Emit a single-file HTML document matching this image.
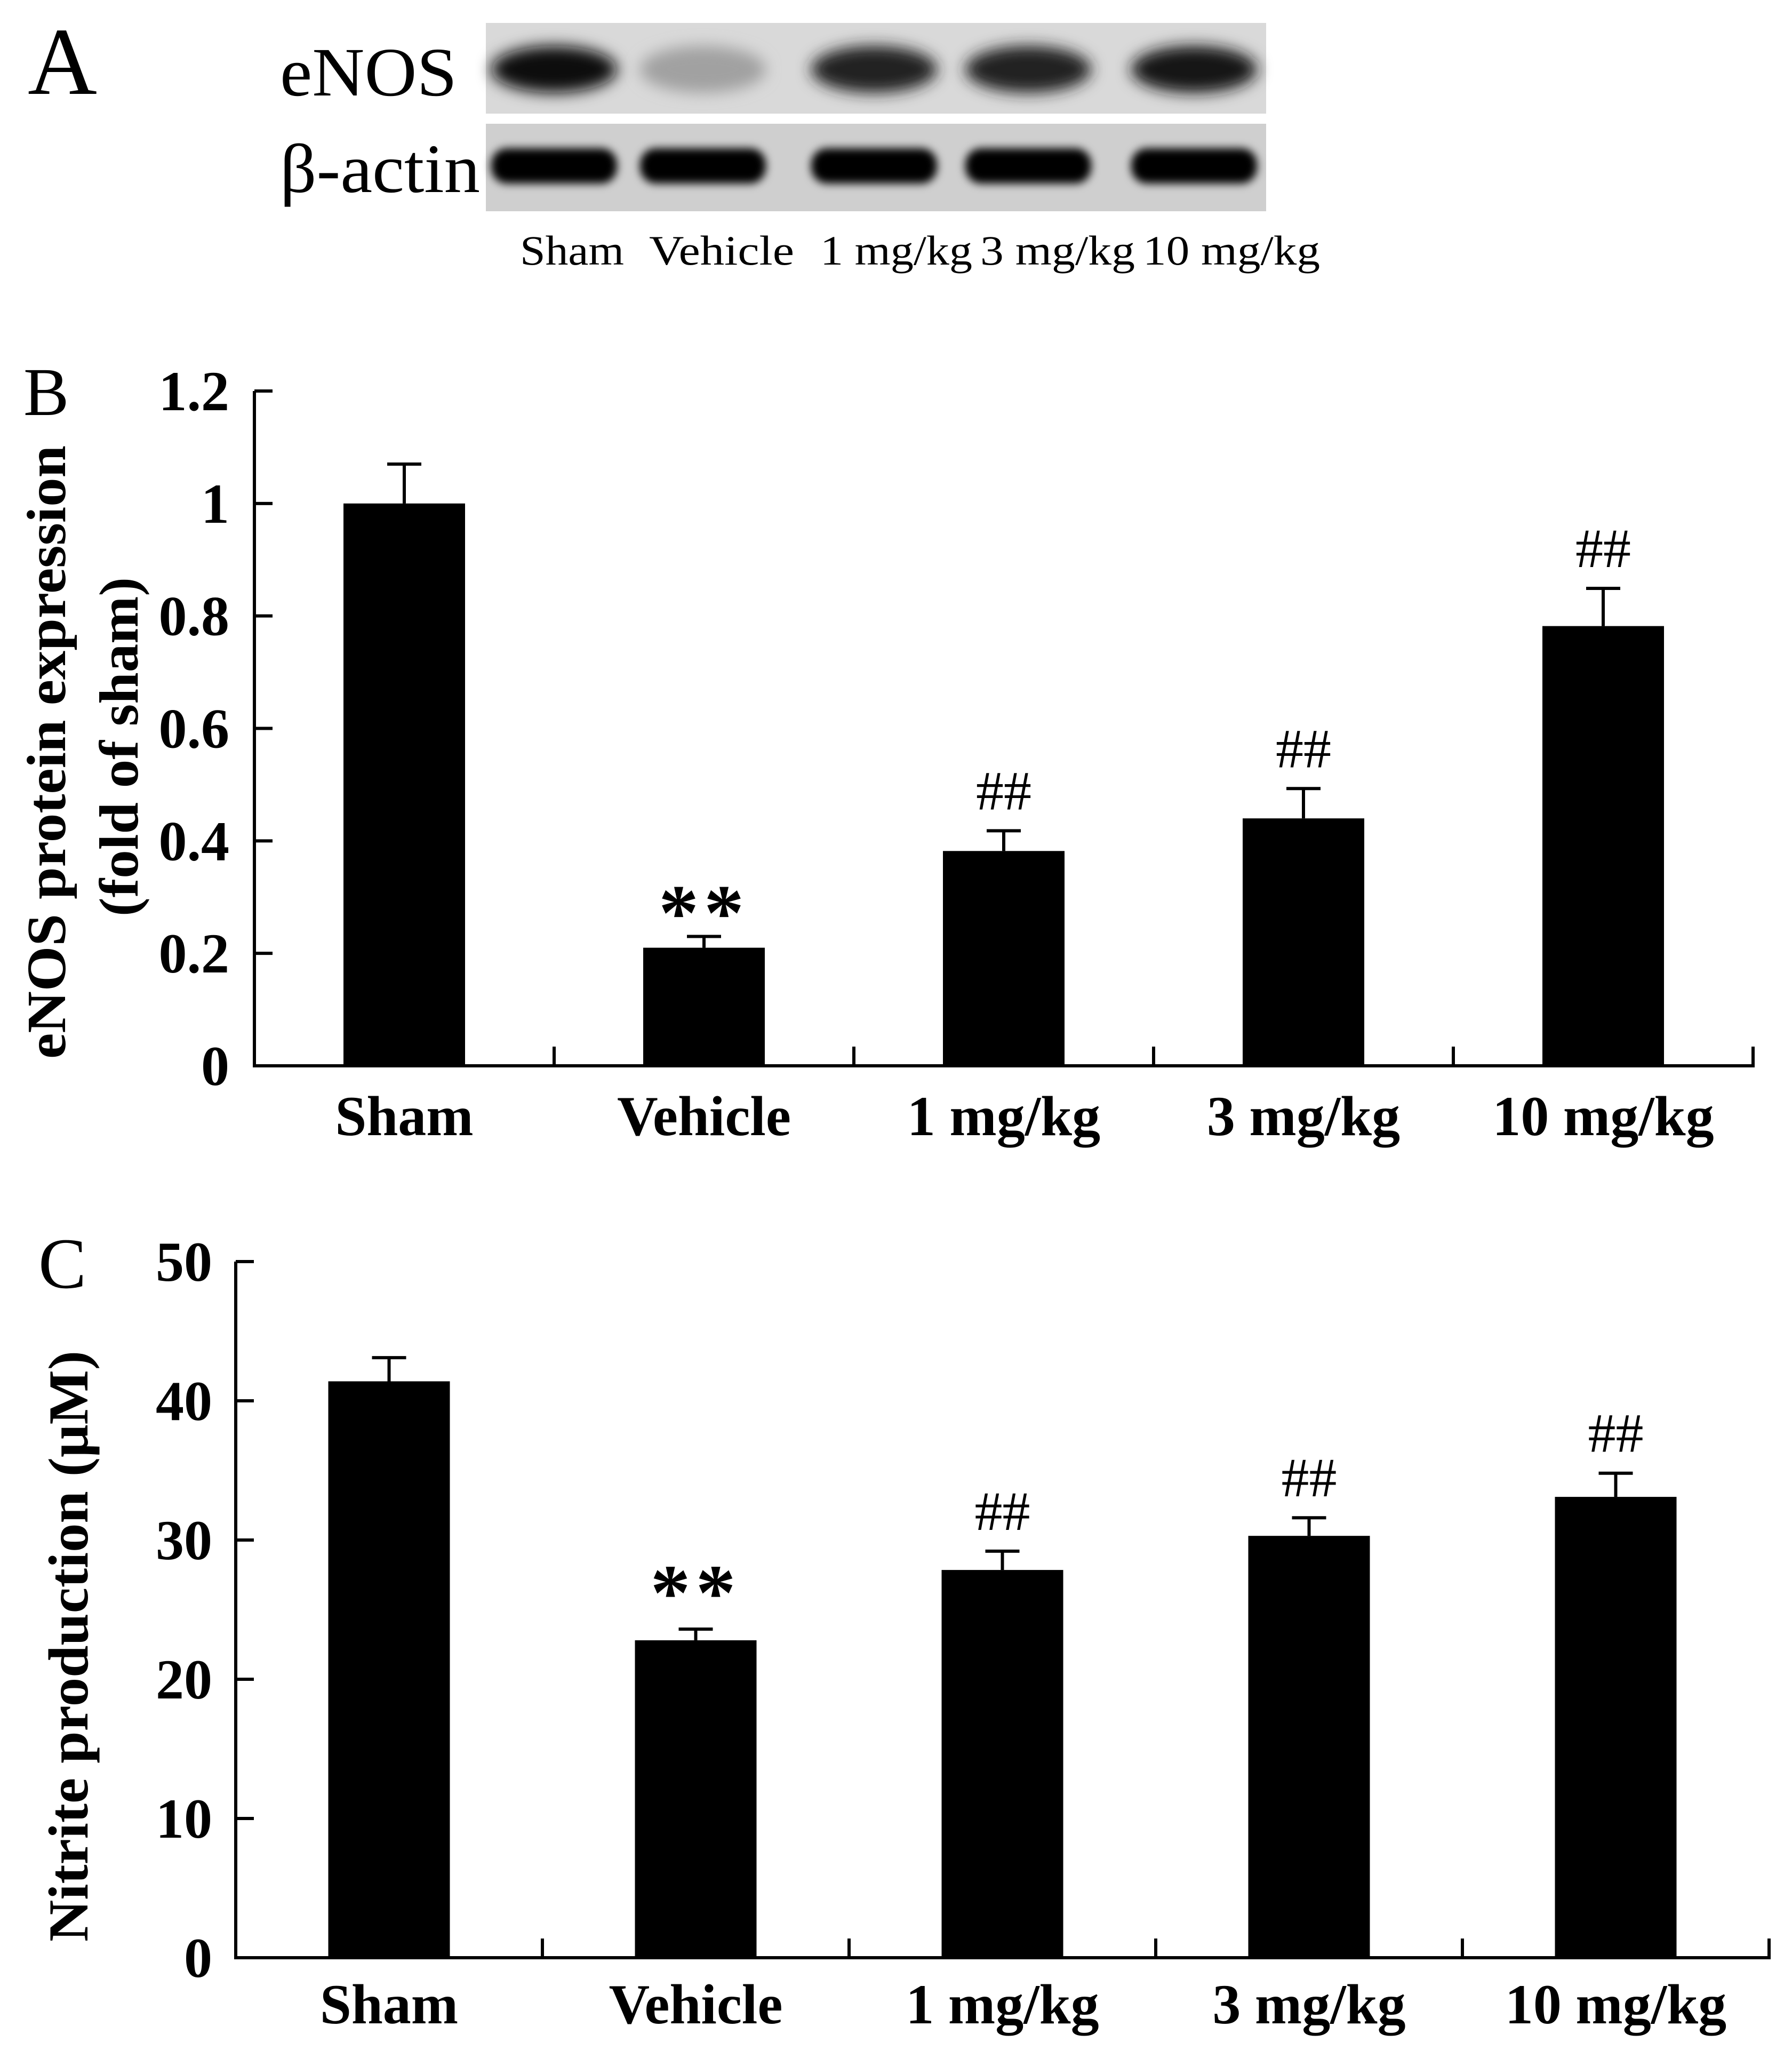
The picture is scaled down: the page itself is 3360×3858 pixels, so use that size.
<!DOCTYPE html>
<html><head><meta charset="utf-8">
<style>
html,body{margin:0;padding:0;background:#fff;}
svg{display:block;}
text{font-family:"Liberation Serif",serif;fill:#000;}
</style></head>
<body>
<svg id="fig" width="3360" height="3858" viewBox="0 0 3360 3858" xmlns="http://www.w3.org/2000/svg">
<defs>
<filter id="blur" x="-30%" y="-60%" width="160%" height="220%"><feGaussianBlur stdDeviation="14"/></filter>
<filter id="blur2" x="-30%" y="-60%" width="160%" height="220%"><feGaussianBlur stdDeviation="8"/></filter>
</defs>
<text x="52" y="176" font-size="180">A</text>
<text x="44" y="778" font-size="128">B</text>
<text x="72" y="2414" font-size="135">C</text>
<text x="525" y="179" font-size="130" textLength="332" lengthAdjust="spacingAndGlyphs">eNOS</text>
<text x="525" y="360" font-size="130" textLength="375" lengthAdjust="spacingAndGlyphs">β-actin</text>
<g id="blot"></g>
<g id="chartB"></g>
<g id="chartC"></g>
</svg>
<script>
const categories = ["Sham","Vehicle","1 mg/kg","3 mg/kg","10 mg/kg"];
const enosValues = [1.0, 0.21, 0.382, 0.44, 0.782];
const enosErrors = [0.07, 0.02, 0.036, 0.053, 0.067];
const enosTicks = ["0","0.2","0.4","0.6","0.8","1","1.2"];
const enosMarks = ["", "**", "##", "##", "##"];
const nitriteValues = [41.4, 22.8, 27.85, 30.3, 33.1];
const nitriteErrors = [1.7, 0.8, 1.35, 1.3, 1.7];
const nitriteTicks = ["0","10","20","30","40","50"];
const nitriteMarks = ["", "**", "##", "##", "##"];
const enosBand = [0.95, 0.25, 0.85, 0.85, 0.9];
const actinBand = [1, 1, 1, 1, 1];

const NS = "http://www.w3.org/2000/svg";
function mk(parent, tag, attrs, txt){
  const e = document.createElementNS(NS, tag);
  for (const k in attrs) e.setAttribute(k, attrs[k]);
  if (txt !== undefined) e.textContent = txt;
  parent.appendChild(e);
  return e;
}

(function(){
  const g = document.getElementById("blot");
  const laneX = [1039, 1318, 1639, 1928, 2239];
  const bg1 = mk(g, "rect", {x:911, y:43, width:1463, height:170, fill:"#d9d9d9"});
  
  
  const bg2 = mk(g, "rect", {x:911, y:232, width:1463, height:164, fill:"#cfcfcf"});
  
  
  enosBand.forEach((v,i)=>{
    const c = Math.round(215 - 215*v);
    const e = mk(g, "ellipse", {cx:laneX[i], cy:130, rx:118, ry:44, fill:`rgb(${c},${c},${c})`, filter:"url(#blur)"});
    
    
  });
  actinBand.forEach((v,i)=>{
    const c = Math.round(200 - 200*v);
    const e = mk(g, "rect", {x:laneX[i]-118, y:278, width:236, height:66, rx:30, fill:`rgb(${c},${c},${c})`, filter:"url(#blur2)"});
    
    
  });
  const labX = [975, 1217, 1538, 1838, 2143];
  const labW = [195, 272, 285, 290, 332];
  categories.forEach((c,i)=>{
    const t = mk(g, "text", {x:labX[i], y:496, "font-size":78, textLength:labW[i], lengthAdjust:"spacingAndGlyphs"}, c);
    
    
  });
})();

function drawChart(gid, cfg, values, errors, ticks, marks){
  const g = document.getElementById(gid);
  const yS = v => cfg.y0 - (v / cfg.max) * (cfg.y0 - cfg.yTop);
  const step = (cfg.xEnd - cfg.x0) / categories.length;
  const xC = i => cfg.x0 + step * (i + 0.5);
  const ya = mk(g, "line", {x1:cfg.x0, y1:cfg.yTop, x2:cfg.x0, y2:cfg.y0+3, stroke:"#000", "stroke-width":6});
  
  
  const xa = mk(g, "line", {x1:cfg.x0-3, y1:cfg.y0, x2:cfg.xEnd+3, y2:cfg.y0, stroke:"#000", "stroke-width":6});
  
  
  ticks.forEach((t)=>{
    const v = parseFloat(t);
    const y = yS(v);
    const tk = mk(g, "line", {x1:cfg.x0, y1:y, x2:cfg.x0+34, y2:y, stroke:"#000", "stroke-width":6});
    
    
    const tl = mk(g, "text", {x:cfg.tickX, y:y+36, "font-size":106, "font-weight":"bold", "text-anchor":"end"}, t);
    
    
  });
  for (let i=1;i<=categories.length;i++){
    const x = cfg.x0 + step*i;
    const tk = mk(g, "line", {x1:x, y1:cfg.y0, x2:x, y2:cfg.y0-36, stroke:"#000", "stroke-width":6});
    
    
  }
  categories.forEach((c,i)=>{
    const cx = xC(i);
    const top = yS(values[i]);
    const eTop = yS(values[i] + errors[i]);
    const el = mk(g, "line", {x1:cx, y1:top, x2:cx, y2:eTop, stroke:"#000", "stroke-width":6});
    
    
    const ec = mk(g, "line", {x1:cx-32, y1:eTop, x2:cx+32, y2:eTop, stroke:"#000", "stroke-width":6});
    
    
    const b = mk(g, "rect", {x:cx-cfg.bw/2, y:top, width:cfg.bw, height:cfg.y0-top, fill:"#000"});
    
    
    const lab = mk(g, "text", {x:cx, y:cfg.labY, "font-size":106, "font-weight":"bold", "text-anchor":"middle"}, c);
    
    
    if (marks[i] === "**"){
      const m = mk(g, "text", {x:cx, y:eTop+cfg.starOff, "font-size":150, "font-weight":"bold", "text-anchor":"middle", "letter-spacing":"10"}, marks[i]);
      
      
    } else if (marks[i]){
      const m = mk(g, "text", {x:cx, y:eTop-40, "font-size":104, "text-anchor":"middle"}, marks[i]);
      
      
    }
  });
}

drawChart("chartB", {x0:477, xEnd:3287, y0:1998, yTop:733, max:1.2, bw:228, tickX:430, labY:2128, starOff:6},
  enosValues, enosErrors, enosTicks, enosMarks);
drawChart("chartC", {x0:442, xEnd:3317, y0:3670, yTop:2365, max:50, bw:228, tickX:398, labY:3793, starOff:-18},
  nitriteValues, nitriteErrors, nitriteTicks, nitriteMarks);

(function(){
  const s = document.getElementById("fig");
  const t1 = mk(s, "text", {x:0, y:0, "font-size":104, "font-weight":"bold", "text-anchor":"middle", transform:"translate(122,1410) rotate(-90)", textLength:1150, lengthAdjust:"spacingAndGlyphs"}, "eNOS protein expression");
  
  
  const t2 = mk(s, "text", {x:0, y:0, "font-size":104, "font-weight":"bold", "text-anchor":"middle", transform:"translate(258,1400) rotate(-90)", textLength:636, lengthAdjust:"spacingAndGlyphs"}, "(fold of sham)");
  
  
  const t3 = mk(s, "text", {x:0, y:0, "font-size":106, "font-weight":"bold", "text-anchor":"middle", transform:"translate(164,3086) rotate(-90)", textLength:1108, lengthAdjust:"spacingAndGlyphs"}, "Nitrite production (μM)");
  
  
})();
</script>
</body></html>
